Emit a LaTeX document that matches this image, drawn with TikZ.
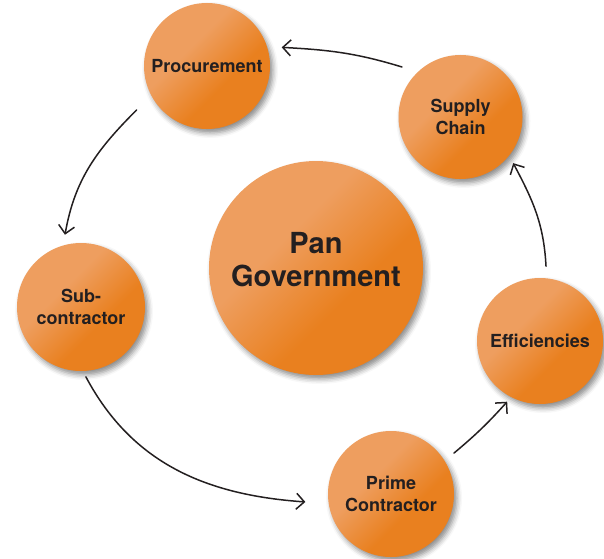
\documentclass[tikz,border=0pt]{standalone}
\usepackage{fontspec}
\setmainfont{TeX Gyre Heros}
\usetikzlibrary{shadows.blur,arrows.meta,calc}
\definecolor{orlight}{HTML}{EE9E5F}
\definecolor{ordark}{HTML}{E9801F}
\definecolor{txt}{HTML}{231F20}
\pgfdeclareverticalshading{ballshade}{100bp}{color(0bp)=(ordark); color(40bp)=(ordark); color(60bp)=(orlight); color(100bp)=(orlight)}
\tikzset{
  ball/.style={circle, inner sep=0pt, text=txt, align=center,
    shading=ballshade, shading angle=45,
    font=\bfseries\fontsize{18}{22}\selectfont,
    blur shadow={shadow xshift=3pt, shadow yshift=-4pt, shadow blur radius=5pt, shadow opacity=45}},
  flow/.style={draw=txt, line width=1.5pt, line cap=round, line join=round,
    -{Straight Barb[length=8pt,width=16pt,line width=1.5pt]}}
}
\begin{document}
\begin{tikzpicture}[x=1pt,y=1pt]
\useasboundingbox (0,0) rectangle (604,558);
\node[ball, minimum size=126pt] (proc) at (207,492) {Procurement};
\node[ball, minimum size=124pt] (sup) at (460.5,441) {Supply\\Chain};
\node[ball, minimum size=214pt, font=\bfseries\fontsize{29}{33}\selectfont] (pan) at (316,290) {\raisebox{-2pt}[0pt][0pt]{\begin{tabular}{@{}c@{}}Pan\\Government\end{tabular}}};
\node[ball, minimum size=128pt] (sub) at (81,251) {Sub-\\contractor};
\node[ball, minimum size=126pt] (eff) at (540,217) {Efficiencies};
\node[ball, minimum size=126pt] (prime) at (391,64) {Prime\\Contractor};
\draw[flow] ($(sup)+(139.5:77)$) to[out=163,in=-3] ($(proc)+(14:77)$);
\draw[flow] ($(proc)+(212:83)$) to[out=225,in=80] ($(sub)+(102.5:74)$);
\draw[flow] ($(sub)+(274:70)$) to[out=-62,in=176] ($(prime)+(185.3:86)$);
\draw[flow] ($(prime)+(33:75)$) to[out=40,in=228] ($(eff)+(241.6:69)$);
\draw[flow] ($(eff)+(85.4:75)$) to[out=93,in=-62] ($(sup)+(-41.2:70)$);
\end{tikzpicture}
\end{document}
